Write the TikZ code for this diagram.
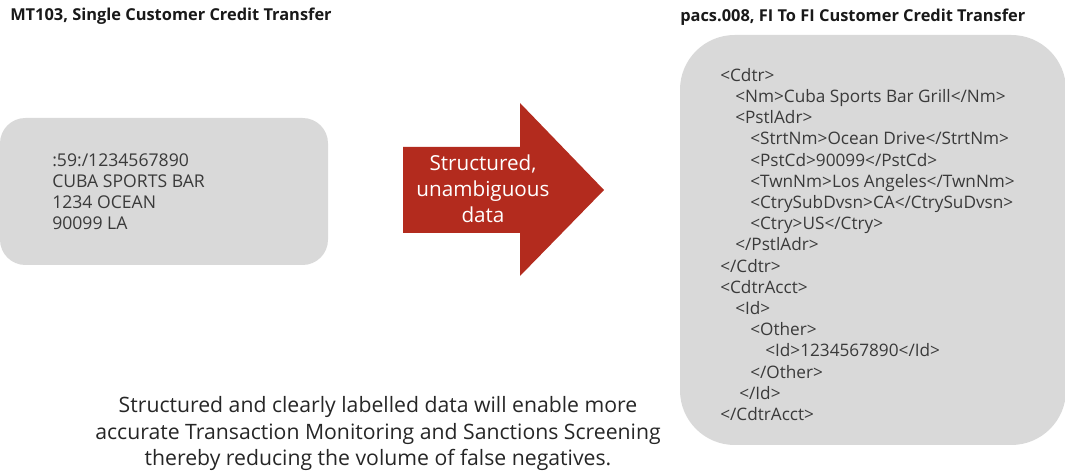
\documentclass[tikz,border=0pt]{standalone}
\usepackage{fontspec}
\setmainfont{Open Sans}
\usetikzlibrary{positioning}
\definecolor{boxgray}{HTML}{D9D9D9}
\definecolor{arrowred}{HTML}{B32B1E}
\definecolor{txtgray}{HTML}{3A3A3A}

\begin{document}
\begin{tikzpicture}[x=0.75pt, y=-0.75pt,
    title/.style={font=\bfseries\fontsize{12.3}{14}\selectfont, text=black!90, inner sep=0pt, anchor=base west},
    code/.style={font=\fontsize{12.9}{15.9}\selectfont, text=txtgray, inner sep=0pt, anchor=north west, align=left},
    msgbox/.style={fill=boxgray, draw=none}]
        \useasboundingbox (0,0) rectangle (1065,473);
        % titles
        \node[title] (mttitle) at (10, 21) {MT103, Single Customer Credit Transfer};
        \node[title] (pacstitle) at (680, 22) {pacs.008, FI To FI Customer Credit Transfer};
        % grey boxes
        \path[msgbox, rounded corners=19pt] (0, 118) rectangle (328, 265);
        \path[msgbox, rounded corners=41pt] (680, 35) rectangle (1066, 445);
        % MT103 free text
        \node[code, font=\fontsize{13.2}{15.9}\selectfont] (mttext) at (52, 153) {:59:/1234567890\\CUBA SPORTS BAR\\1234 OCEAN\\90099 LA};
        % the arrow
        \fill[arrowred] (403, 147) -- (520, 147) -- (520, 103) -- (604, 190) -- (520, 276) -- (520, 233) -- (403, 233) -- cycle;
        \node[font=\fontsize{15.5}{19.5}\selectfont, text=white, align=center, inner sep=0pt] (arrowtext) at (483, 189) {Structured,\\unambiguous\\data};
        % pacs.008 xml
        \def\ind{\hspace*{11.25pt}}
        \node[code] (xmltext) at (720, 68) {<Cdtr>\\
\ind<Nm>Cuba Sports Bar Grill</Nm>\\
\ind<PstlAdr>\\
\ind\ind<StrtNm>Ocean Drive</StrtNm>\\
\ind\ind<PstCd>90099</PstCd>\\
\ind\ind<TwnNm>Los Angeles</TwnNm>\\
\ind\ind<CtrySubDvsn>CA</CtrySuDvsn>\\
\ind\ind<Ctry>US</Ctry>\\
\ind</PstlAdr>\\
</Cdtr>\\
<CdtrAcct>\\
\ind<Id>\\
\ind\ind<Other>\\
\ind\ind\ind<Id>1234567890</Id>\\
\ind\ind</Other>\\
\ind\hspace*{3pt}</Id>\\
</CdtrAcct>};
        % bottom note (base = last line)
        \node[font=\fontsize{15.9}{19.9}\selectfont, text=black!85, align=center, inner sep=0pt, anchor=base] (note) at (378, 466) {Structured and clearly labelled data will enable more\\accurate Transaction Monitoring and Sanctions Screening\\thereby reducing the volume of false negatives.};
\end{tikzpicture}
\end{document}
